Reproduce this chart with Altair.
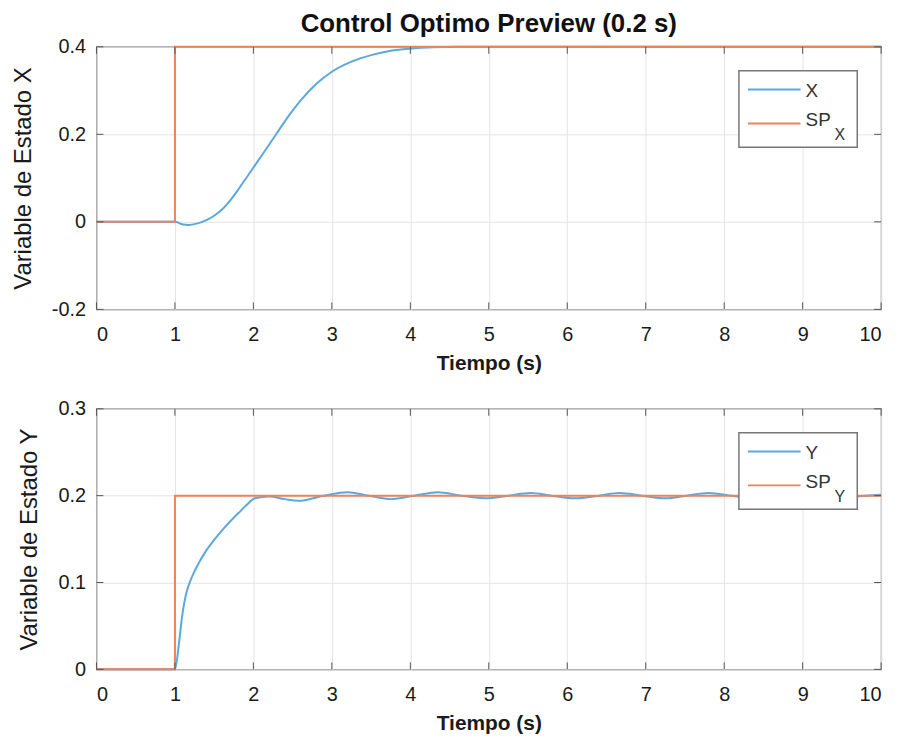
import altair as alt
import pandas as pd

# ---------------- data ----------------
x_ticks = [0, 1, 2, 3, 4, 5, 6, 7, 8, 9, 10]

# top panel: state X and its set point
t_x = [0, 1.0, 1.1, 1.18, 1.3, 1.4, 1.5, 1.6, 1.7, 1.8, 1.9, 2.0, 2.15, 2.3, 2.45,
       2.6, 2.8, 3.0, 3.25, 3.5, 3.75, 4.0, 4.3, 4.6, 5.0, 10.0]
x_vals = [0, 0, -0.006, -0.007, -0.003, 0.004, 0.014, 0.028, 0.048, 0.072, 0.098,
          0.124, 0.163, 0.203, 0.242, 0.277, 0.315, 0.343, 0.366, 0.381, 0.391,
          0.396, 0.399, 0.4, 0.4, 0.4]
t_sp = [0, 1, 10]
sp_x = [0, 0.4, 0.4]
yticks_top = [-0.2, 0, 0.2, 0.4]

# bottom panel: state Y and its set point
t_y = [0, 1.0, 1.05, 1.09, 1.14, 1.18, 1.25, 1.32, 1.4, 1.5, 1.6, 1.7, 1.81, 1.9,
       2.02, 2.2, 2.4, 2.57, 2.9, 3.2, 3.47, 3.75, 4.05, 4.35, 4.65, 4.95, 5.25,
       5.53, 5.8, 6.1, 6.4, 6.67, 6.95, 7.25, 7.52, 7.8, 8.1, 8.38, 8.65, 8.95,
       9.25, 9.55, 9.8, 10.0]
y_vals = [0, 0, 0.029, 0.06, 0.086, 0.098, 0.113, 0.125, 0.137, 0.149, 0.160, 0.170,
          0.180, 0.188, 0.197, 0.199, 0.196, 0.194, 0.2, 0.204, 0.2, 0.196, 0.2,
          0.204, 0.2, 0.197, 0.2, 0.203, 0.2, 0.197, 0.2, 0.203, 0.2, 0.197, 0.2,
          0.203, 0.2, 0.197, 0.2, 0.202, 0.2, 0.198, 0.2, 0.201]
sp_y = [0, 0.2, 0.2]
yticks_bot = [0, 0.1, 0.2, 0.3]

legend_top = ["X", "SP", "X"]
legend_bot = ["Y", "SP", "Y"]

# ---------------- style ----------------
FONT = "Liberation Sans"
BLUE = "#5BA8DF"
ORANGE = "#E8845E"
FRAME = "#555555"
W = 789


def panel(t_line, v_line, sp_v, yticks, ydom, ytitle, h, leg):
    line_df = pd.DataFrame({"t": t_line, "v": v_line})
    sp_df = pd.DataFrame({"t": t_sp, "v": sp_v})
    xs = alt.Scale(domain=[0, 10], nice=False, zero=False)
    ys = alt.Scale(domain=ydom, nice=False, zero=False)

    xaxis = alt.Axis(values=x_ticks, title="Tiempo (s)", labelExpr="toString(datum.value)",
                     titleFontWeight="bold", titleFontSize=21, labelPadding=15,
                     titlePadding=8)
    yaxis = alt.Axis(values=yticks, title=ytitle, labelExpr="toString(datum.value)",
                     titleFontWeight="normal", titleFontSize=24, labelPadding=11,
                     titlePadding=16)
    X = lambda: alt.X("t:Q", scale=xs, axis=xaxis)
    Y = lambda: alt.Y("v:Q", scale=ys, axis=yaxis)

    blue = alt.Chart(line_df).mark_line(color=BLUE, strokeWidth=2, interpolate="monotone").encode(
        x=X(), y=Y())
    orange = alt.Chart(sp_df).mark_line(color=ORANGE, strokeWidth=2, interpolate="step-after").encode(
        x=X(), y=Y())

    xt_df = pd.DataFrame({"t": x_ticks})
    yt_df = pd.DataFrame({"v": yticks})
    xt_bot = alt.Chart(xt_df).mark_rule(color=FRAME, strokeWidth=1).encode(
        x=X(), y=alt.value(h), y2=alt.value(h - 7))
    xt_top = alt.Chart(xt_df).mark_rule(color=FRAME, strokeWidth=1).encode(
        x=X(), y=alt.value(0), y2=alt.value(7))
    yt_left = alt.Chart(yt_df).mark_rule(color=FRAME, strokeWidth=1).encode(
        y=Y(), x=alt.value(0), x2=alt.value(7))
    yt_right = alt.Chart(yt_df).mark_rule(color=FRAME, strokeWidth=1).encode(
        y=Y(), x=alt.value(W), x2=alt.value(W - 7))

    dummy = pd.DataFrame({"k": [0]})
    box = alt.Chart(dummy).mark_rect(fill="white", stroke="#777777", strokeWidth=1.5).encode(
        x=alt.value(646), x2=alt.value(765), y=alt.value(24), y2=alt.value(101))
    l1 = alt.Chart(dummy).mark_rule(color=BLUE, strokeWidth=2).encode(
        x=alt.value(655), x2=alt.value(708), y=alt.value(43))
    l2 = alt.Chart(dummy).mark_rule(color=ORANGE, strokeWidth=2).encode(
        x=alt.value(655), x2=alt.value(708), y=alt.value(77))
    txt_style = dict(align="left", baseline="middle", font=FONT, color="#333333")
    t1 = alt.Chart(dummy).mark_text(text=leg[0], fontSize=19, **txt_style).encode(
        x=alt.value(713), y=alt.value(44))
    t2 = alt.Chart(dummy).mark_text(text=leg[1], fontSize=19, **txt_style).encode(
        x=alt.value(713), y=alt.value(74))
    t3 = alt.Chart(dummy).mark_text(text=leg[2], fontSize=16, **txt_style).encode(
        x=alt.value(742), y=alt.value(89))

    return alt.layer(blue, orange, xt_bot, xt_top, yt_left, yt_right,
                     box, l1, l2, t1, t2, t3).properties(width=W, height=h)


top = panel(t_x, x_vals, sp_x, yticks_top, [-0.2, 0.4], "Variable de Estado X", 264, legend_top)
bot = panel(t_y, y_vals, sp_y, yticks_bot, [0, 0.3], "Variable de Estado Y", 262, legend_bot)

chart = alt.vconcat(top, bot, spacing=100, bounds="flush").properties(
    title=alt.TitleParams("Control Optimo Preview (0.2 s)", font=FONT, fontSize=26,
                          fontWeight="bold", color="#111111", anchor="middle",
                          frame="group", offset=-1),
    padding={"left": 10, "top": 9, "right": 18, "bottom": 10},
    background="white",
).configure_view(
    stroke=FRAME, strokeWidth=1.2
).configure_axis(
    labelFont=FONT, labelFontSize=20, labelColor="#1a1a1a",
    titleFont=FONT, titleColor="#1a1a1a",
    domain=False, ticks=False, grid=True, gridColor="#e4e4e4", gridWidth=1,
)

chart.save("out.html", embed_options={"renderer": "svg", "actions": False})
